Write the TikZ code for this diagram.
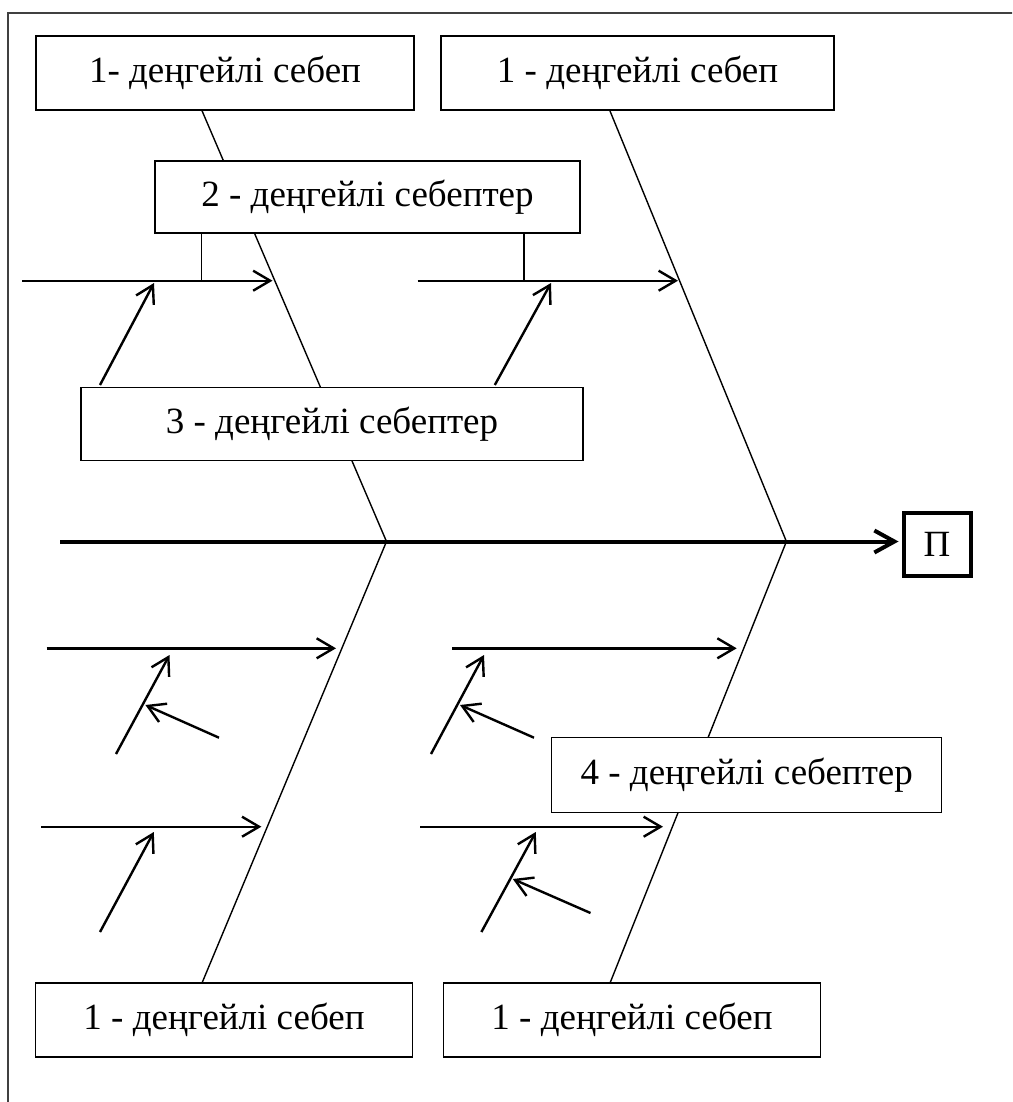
\documentclass[tikz,border=0pt]{standalone}
\usepackage{fontspec}
\setmainfont{Liberation Serif}
\usetikzlibrary{arrows.meta,backgrounds}
\begin{document}
\begin{tikzpicture}[x=1pt,y=-1pt,
  box/.style={draw, line width=1.3pt, fill=white, inner sep=0pt,
    minimum height=74pt, font=\fontsize{37}{44}\selectfont},
  bone/.style={line width=1.4pt},
  feed/.style={line width=2.4pt, -{Straight Barb[length=17pt,width=20pt,line width=2.4pt]}},
  tick/.style={line width=1.3pt},
  spine/.style={line width=4pt, -{Straight Barb[length=20pt,width=22pt,line width=4pt]}}
]
\clip (0,0) rectangle (1012,1102);
\draw[line width=1.3pt, black!75] (8,13) rectangle (1040,1130);

% cause boxes
\node[box, minimum width=378pt] (c1a) at (225,73) {1- деңгейлі себеп};
\node[box, minimum width=393pt] (c1b) at (637.5,73) {1 - деңгейлі себеп};
\node[box, minimum width=425pt, minimum height=72pt] (c2) at (367.5,197) {2 - деңгейлі себептер};
\node[box, minimum width=502pt, minimum height=73pt] (c3) at (332,424) {3 - деңгейлі себептер};
\node[box, minimum width=390pt, minimum height=75pt] (c4) at (746.7,775.3) {4 - деңгейлі себептер};
\node[box, minimum width=377pt] (c1c) at (224,1020) {1 - деңгейлі себеп};
\node[box, minimum width=377pt] (c1d) at (632,1020) {1 - деңгейлі себеп};
\node[draw, line width=4pt, fill=white, minimum width=67pt, minimum height=63pt,
  inner sep=0pt, font=\fontsize{37}{44}\selectfont] (P) at (937,544) {П};

% junctions and end points of the bones
\coordinate (jA) at (386.5,541.5);
\coordinate (jB) at (786.4,541.5);
\coordinate (s0) at (60,541.5);
\coordinate (aT) at (201.7,110);
\coordinate (bT) at (609.6,110);
\coordinate (aB) at (202,983);
\coordinate (bB) at (610,983);

% upper branch arrows
\coordinate (u1s) at (22,280.7);   \coordinate (u1e) at (272.5,280.7);
\coordinate (u2s) at (417.6,280.7);\coordinate (u2e) at (678,280.7);
\coordinate (k1) at (201.7,280.7); \coordinate (k2) at (524,280.7);
\coordinate (o1s) at (100,385);    \coordinate (o1e) at (154,283);
\coordinate (o2s) at (494.8,385);  \coordinate (o2e) at (551,283);

% lower branch arrows
\coordinate (l1s) at (46.7,648.3); \coordinate (l1e) at (336,648.3);
\coordinate (p1s) at (116,754);    \coordinate (p1e) at (169.5,655);
\coordinate (q1s) at (219,737.7);  \coordinate (q1e) at (145.4,705);
\coordinate (l2s) at (41,826.7);   \coordinate (l2e) at (261.4,826.7);
\coordinate (p2s) at (100,932);    \coordinate (p2e) at (153.8,832);
\coordinate (r1s) at (452,648.3);  \coordinate (r1e) at (736.7,648.3);
\coordinate (p3s) at (431,754);    \coordinate (p3e) at (484,655);
\coordinate (q3s) at (534,737.7);  \coordinate (q3e) at (460,705);
\coordinate (r2s) at (420,826.7);  \coordinate (r2e) at (663,826.7);
\coordinate (p4s) at (481.4,932);  \coordinate (p4e) at (535.8,832);
\coordinate (q4s) at (590.5,913);  \coordinate (q4e) at (512.8,879);

\begin{scope}[on background layer]
  \draw[bone] (aT) -- (jA) -- (aB);
  \draw[bone] (bT) -- (jB) -- (bB);
  \draw[tick] (c2.south -| k1) -- (k1);
  \draw[tick] (c2.south -| k2) -- (k2);
\end{scope}

\draw[spine, shorten >=3pt] (s0) -- (s0 -| P.west);

\foreach \a in {u1,u2,l1,l2,r1,r2}
  \draw[feed] (\a s) -- (\a e);
\foreach \a in {o1,o2,p1,p2,p3,p4,q1,q3,q4}
  \draw[feed] (\a s) -- (\a e);
\end{tikzpicture}
\end{document}
